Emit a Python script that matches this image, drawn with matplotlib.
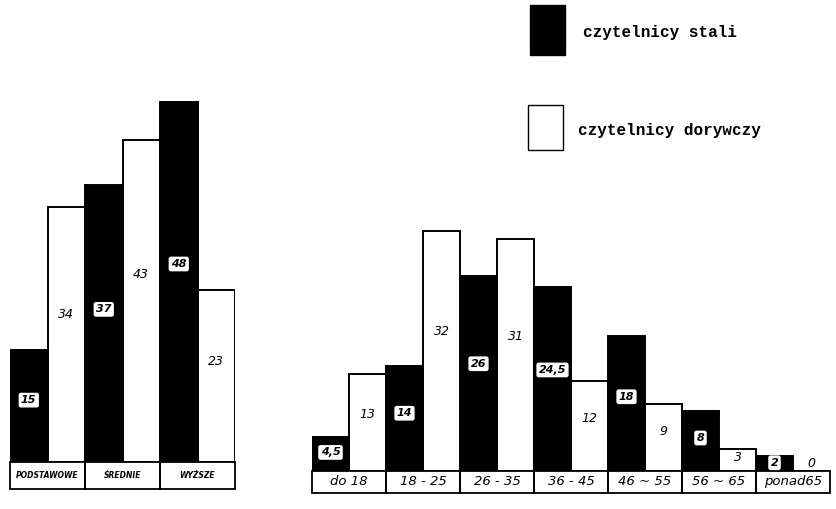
import matplotlib.pyplot as plt
from matplotlib.patches import Rectangle, FancyBboxPatch

# wykształcenie
edu_labels = ["PODSTAWOWE", "ŚREDNIE", "WYŻSZE"]
edu_stali = [15, 37, 48]
edu_dorywczy = [34, 43, 23]

# wiek
age_labels = ["do 18", "18 - 25", "26 - 35", "36 - 45", "46 ~ 55", "56 ~ 65", "ponad65"]
age_stali = [4.5, 14, 26, 24.5, 18, 8, 2]
age_dorywczy = [13, 32, 31, 12, 9, 3, 0]

W, H = 836, 509
fig = plt.figure(figsize=(W / 100, H / 100), dpi=100)
hand = dict(family="DejaVu Sans", style="italic")


def fmt(v):
    return f"{v:g}".replace(".", ",")


def draw_group(ax, labels, stali, doryw, box_h, lab_size, lab_weight):
    for i, (s, d) in enumerate(zip(stali, doryw)):
        xs, xd = 2 * i, 2 * i + 1
        ax.bar(xd, d, width=1, align="edge", color="white", edgecolor="black", linewidth=1.4)
        ax.bar(xs, s, width=1, align="edge", color="black", edgecolor="black", linewidth=1.4)
        # etykieta w czarnym słupku - biała ramka
        ax.text(xs + 0.5, max(s * 0.55, 1.0), fmt(s), ha="center", va="center",
                fontsize=8, fontweight="bold", color="black", **hand,
                bbox=dict(boxstyle="round,pad=0.15", fc="white", ec="white"))
        ax.text(xd + 0.5, max(d * 0.58, 1.0), fmt(d), ha="center", va="center",
                fontsize=9, color="black", **hand)
        # podpis kategorii w ramce pod parą słupków
        ax.add_patch(Rectangle((xs, -box_h), 2, box_h, fill=False, ec="black",
                               lw=1.3, clip_on=False))
        ax.text(xs + 1, -box_h / 2, labels[i], ha="center", va="center",
                fontsize=lab_size, fontweight=lab_weight, **hand)
    ax.set_xlim(0, 2 * len(stali))
    ax.axis("off")


# lewa część: 7.5 px na jednostkę
ax1 = fig.add_axes([10 / W, 47 / H, 225 / W, 375 / H])
ax1.set_ylim(0, 50)
draw_group(ax1, edu_labels, edu_stali, edu_dorywczy, 3.6, 5.5, "bold")

# prawa część
ax2 = fig.add_axes([312 / W, 38 / H, 518 / W, 255 / H])
ax2.set_ylim(0, 34)
draw_group(ax2, age_labels, age_stali, age_dorywczy, 2.9, 9.5, "normal")

# legenda
fig.patches.append(Rectangle((530 / W, 1 - 55 / H), 35 / W, 50 / H, transform=fig.transFigure,
                             fc="black", ec="black", lw=1))
fig.text(583 / W, 1 - 33 / H, "czytelnicy stali", fontsize=11.5, family="Liberation Mono",
         fontweight="bold", va="center")
fig.patches.append(Rectangle((528 / W, 1 - 150 / H), 35 / W, 45 / H, transform=fig.transFigure,
                             fc="white", ec="black", lw=1))
fig.text(578 / W, 1 - 130 / H, "czytelnicy dorywczy", fontsize=11.5, family="Liberation Mono",
         fontweight="bold", va="center")

fig.savefig("out.png", dpi=100, facecolor="white")
